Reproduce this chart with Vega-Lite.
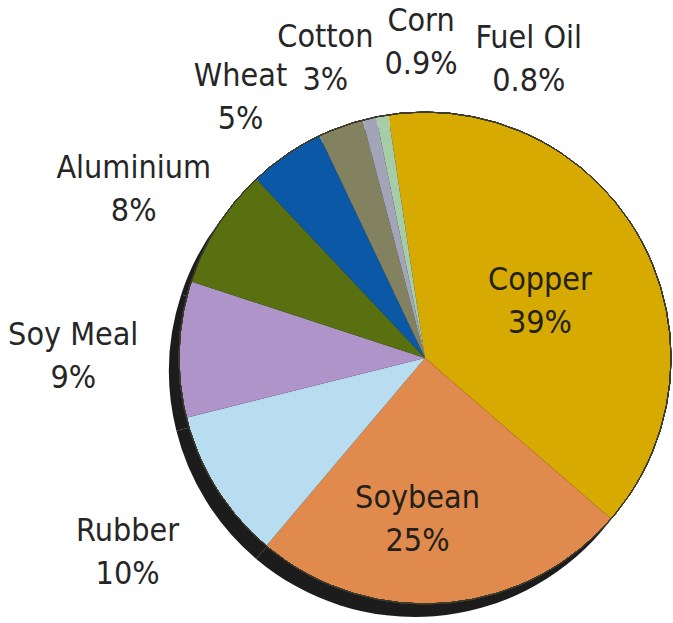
{
  "$schema": "https://vega.github.io/schema/vega-lite/v6.json",
  "width": 492,
  "height": 492,
  "autosize": {"type": "none"},
  "padding": {"left": 179, "top": 112, "right": 2, "bottom": 19},
  "background": "white",
  "view": {"stroke": null},
  "data": {
    "values": [
      {"commodity": "Copper", "share": 39, "label": "Copper\n39%", "order": 1},
      {"commodity": "Soybean", "share": 25, "label": "Soybean\n25%", "order": 2},
      {"commodity": "Rubber", "share": 10, "label": "Rubber\n10%", "order": 3},
      {"commodity": "Soy Meal", "share": 9, "label": "Soy Meal\n9%", "order": 4},
      {"commodity": "Aluminium", "share": 8, "label": "Aluminium\n8%", "order": 5},
      {"commodity": "Wheat", "share": 5, "label": "Wheat\n5%", "order": 6},
      {"commodity": "Cotton", "share": 3, "label": "Cotton\n3%", "order": 7},
      {"commodity": "Corn", "share": 0.9, "label": "Corn\n0.9%", "order": 8},
      {"commodity": "Fuel Oil", "share": 0.8, "label": "Fuel Oil\n0.8%", "order": 9}
    ]
  },
  "layer": [
    {
      "mark": {"type": "arc", "outerRadius": 246, "xOffset": -10, "yOffset": 13, "color": "#1c1c1c"},
      "encoding": {
        "theta": {"field": "share", "type": "quantitative", "stack": true, "scale": {"domain": [0, 100.7], "nice": false, "range": [-0.1501, 6.1331]}},
        "order": {"field": "order", "type": "quantitative"}
      }
    },
    {
      "mark": {"type": "arc", "outerRadius": 246},
      "encoding": {
        "theta": {"field": "share", "type": "quantitative", "stack": true},
        "order": {"field": "order", "type": "quantitative"},
        "color": {
          "field": "commodity", "type": "nominal", "legend": null,
          "scale": {
            "domain": ["Copper", "Soybean", "Rubber", "Soy Meal", "Aluminium", "Wheat", "Cotton", "Corn", "Fuel Oil"],
            "range": ["#D6AA00", "#E08A4E", "#B9DDF0", "#AE94C9", "#58700F", "#0B58A6", "#828260", "#A3A4B8", "#A6CCA8"]
          }
        }
      }
    },
    {
      "mark": {"type": "arc", "outerRadius": 246, "fill": null, "stroke": "#3d3a2c", "strokeWidth": 1},
      "encoding": {}
    },
    {
      "mark": {"type": "text", "radius": 129, "dx": 2, "dy": -16, "font": "'DejaVu Sans Condensed', sans-serif", "fontSize": 32, "lineBreak": "\n", "lineHeight": 43, "align": "center", "baseline": "middle", "color": "#231f1a"},
      "encoding": {
        "theta": {"field": "share", "type": "quantitative", "stack": true},
        "order": {"field": "order", "type": "quantitative"},
        "text": {"condition": {"test": "datum.commodity === 'Copper'", "field": "label"}, "value": ""}
      }
    },
    {
      "mark": {"type": "text", "radius": 160, "dx": -20, "dy": -20, "font": "'DejaVu Sans Condensed', sans-serif", "fontSize": 32, "lineBreak": "\n", "lineHeight": 43, "align": "center", "baseline": "middle", "color": "#231f1a"},
      "encoding": {
        "theta": {"field": "share", "type": "quantitative", "stack": true},
        "order": {"field": "order", "type": "quantitative"},
        "text": {"condition": {"test": "datum.commodity === 'Soybean'", "field": "label"}, "value": ""}
      }
    },
    {
      "mark": {"type": "text", "radius": 354, "dx": 3, "dy": -14, "font": "'DejaVu Sans Condensed', sans-serif", "fontSize": 32, "lineBreak": "\n", "lineHeight": 43, "align": "center", "baseline": "middle", "color": "#262626"},
      "encoding": {
        "theta": {"field": "share", "type": "quantitative", "stack": true},
        "order": {"field": "order", "type": "quantitative"},
        "text": {"condition": {"test": "datum.commodity === 'Rubber'", "field": "label"}, "value": ""}
      }
    },
    {
      "mark": {"type": "text", "radius": 352, "dx": 0, "dy": -10, "font": "'DejaVu Sans Condensed', sans-serif", "fontSize": 32, "lineBreak": "\n", "lineHeight": 43, "align": "center", "baseline": "middle", "color": "#262626"},
      "encoding": {
        "theta": {"field": "share", "type": "quantitative", "stack": true},
        "order": {"field": "order", "type": "quantitative"},
        "text": {"condition": {"test": "datum.commodity === 'Soy Meal'", "field": "label"}, "value": ""}
      }
    },
    {
      "mark": {"type": "text", "radius": 338, "dx": -6, "dy": -9, "font": "'DejaVu Sans Condensed', sans-serif", "fontSize": 32, "lineBreak": "\n", "lineHeight": 43, "align": "center", "baseline": "middle", "color": "#262626"},
      "encoding": {
        "theta": {"field": "share", "type": "quantitative", "stack": true},
        "order": {"field": "order", "type": "quantitative"},
        "text": {"condition": {"test": "datum.commodity === 'Aluminium'", "field": "label"}, "value": ""}
      }
    },
    {
      "mark": {"type": "text", "radius": 320, "dx": -4, "dy": -18, "font": "'DejaVu Sans Condensed', sans-serif", "fontSize": 32, "lineBreak": "\n", "lineHeight": 43, "align": "center", "baseline": "middle", "color": "#262626"},
      "encoding": {
        "theta": {"field": "share", "type": "quantitative", "stack": true},
        "order": {"field": "order", "type": "quantitative"},
        "text": {"condition": {"test": "datum.commodity === 'Wheat'", "field": "label"}, "value": ""}
      }
    },
    {
      "mark": {"type": "text", "radius": 317, "dx": 9, "dy": -23, "font": "'DejaVu Sans Condensed', sans-serif", "fontSize": 32, "lineBreak": "\n", "lineHeight": 43, "align": "center", "baseline": "middle", "color": "#262626"},
      "encoding": {
        "theta": {"field": "share", "type": "quantitative", "stack": true},
        "order": {"field": "order", "type": "quantitative"},
        "text": {"condition": {"test": "datum.commodity === 'Cotton'", "field": "label"}, "value": ""}
      }
    },
    {
      "mark": {"type": "text", "radius": 314, "dx": 67, "dy": -31, "font": "'DejaVu Sans Condensed', sans-serif", "fontSize": 32, "lineBreak": "\n", "lineHeight": 43, "align": "center", "baseline": "middle", "color": "#262626"},
      "encoding": {
        "theta": {"field": "share", "type": "quantitative", "stack": true},
        "order": {"field": "order", "type": "quantitative"},
        "text": {"condition": {"test": "datum.commodity === 'Corn'", "field": "label"}, "value": ""}
      }
    },
    {
      "mark": {"type": "text", "radius": 317, "dx": 159, "dy": -8, "font": "'DejaVu Sans Condensed', sans-serif", "fontSize": 32, "lineBreak": "\n", "lineHeight": 43, "align": "center", "baseline": "middle", "color": "#262626"},
      "encoding": {
        "theta": {"field": "share", "type": "quantitative", "stack": true},
        "order": {"field": "order", "type": "quantitative"},
        "text": {"condition": {"test": "datum.commodity === 'Fuel Oil'", "field": "label"}, "value": ""}
      }
    }
  ]
}
